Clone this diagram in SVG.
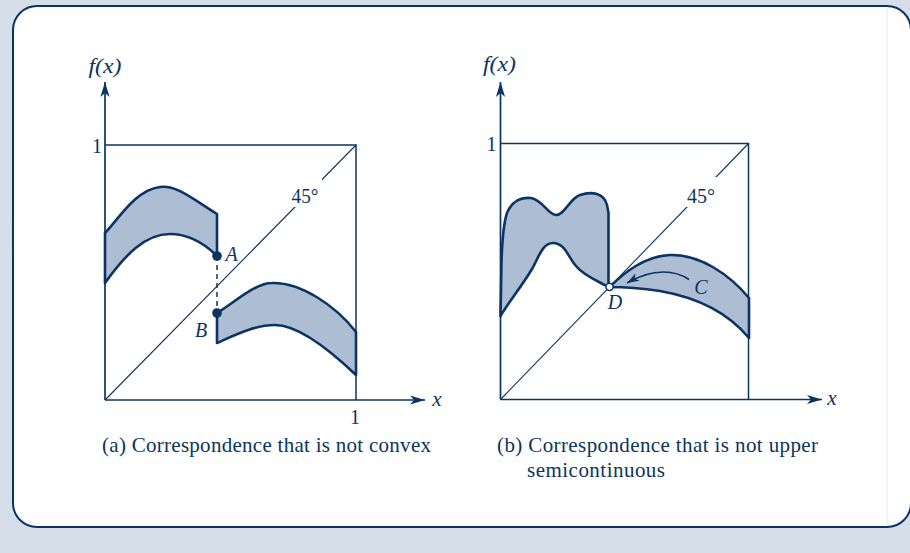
<svg xmlns="http://www.w3.org/2000/svg" width="910" height="553" viewBox="0 0 910 553">
<style>
.ax{stroke:#0b3462;stroke-width:1.7;fill:none}
.bx{stroke:#0b3462;stroke-width:1.5;fill:none}
.dg{stroke:#0b3462;stroke-width:1.1;fill:none}
.sh{stroke:#0b3462;stroke-width:2.6;fill:#adbdd3;stroke-linejoin:round}
.t{font-family:"Liberation Serif","Times New Roman",serif;fill:#0b3462}
.i{font-style:italic}
</style>
<defs>
<marker id="arr" markerUnits="userSpaceOnUse" markerWidth="20" markerHeight="14" viewBox="-16 -7 17 14" refX="0" refY="0" orient="auto">
<path d="M0,0 L-15,-4.6 L-11,0 L-15,4.6 Z" fill="#0b3462"/>
</marker>
<marker id="arrs" markerUnits="userSpaceOnUse" markerWidth="16" markerHeight="12" viewBox="-13 -6 14 12" refX="0" refY="0" orient="auto">
<path d="M0,0 L-12,-4.2 L-9,0 L-12,4.2 Z" fill="#0b3462"/>
</marker>
</defs>
<rect x="0" y="0" width="910" height="553" fill="#d6deea"/>
<rect x="13" y="6" width="898" height="521" rx="24" ry="24" fill="#ffffff" stroke="#0b3462" stroke-width="2"/>
<line x1="887" y1="7" x2="887" y2="526" stroke="#e6e9ee" stroke-width="1"/>

<g id="panel-a">
<g id="a-axes">
<line class="ax" x1="105" y1="400" x2="105" y2="82" marker-end="url(#arr)"/>
<line class="ax" x1="105" y1="400" x2="425" y2="400" marker-end="url(#arr)"/>
<polyline class="bx" points="105,145 356,145 356,400"/>
<line class="dg" x1="105" y1="400" x2="356" y2="145"/>
<rect x="289" y="179" width="33" height="28" fill="#ffffff"/>
<text class="t" x="305" y="202.5" font-size="20" text-anchor="middle" textLength="27" lengthAdjust="spacingAndGlyphs">45°</text>
<text class="t i" x="105" y="72.5" font-size="20" text-anchor="middle" textLength="33" lengthAdjust="spacingAndGlyphs">f(x)</text>
<text class="t" x="97" y="152.5" font-size="20" text-anchor="middle">1</text>
<text class="t" x="355" y="423.5" font-size="20" text-anchor="middle">1</text>
<text class="t i" x="437" y="406" font-size="21" text-anchor="middle">x</text>
</g>
<g id="a-upper-set">
<path class="sh" d="M105,233 C118,220 135,190 160,187 C176,185 190,197 217,214 L217,256 C205,244 190,234 170,234 C145,234 125,255 105,283 Z"/>
</g>
<g id="a-lower-set">
<path class="sh" d="M217,313 C235,302 255,283 272,283 C300,282 335,305 356,332 L356,375 C335,355 300,325 275,325 C255,325 235,335 217,343 Z"/>
</g>
<g id="a-points">
<line x1="217" y1="256" x2="217" y2="313" stroke="#0b3462" stroke-width="1.5" stroke-dasharray="5,4"/>
<circle cx="217" cy="256" r="4.8" fill="#0b3462"/>
<circle cx="217" cy="313" r="4.8" fill="#0b3462"/>
<text class="t i" x="231.5" y="260.5" font-size="20" text-anchor="middle">A</text>
<text class="t i" x="201" y="337" font-size="20" text-anchor="middle">B</text>
</g>
<text class="t" x="102" y="451.5" font-size="21" textLength="329" lengthAdjust="spacing">(a) Correspondence that is not convex</text>
</g>

<g id="panel-b">
<g id="b-axes">
<line class="ax" x1="500.5" y1="399.5" x2="500.5" y2="82" marker-end="url(#arr)"/>
<line class="ax" x1="500.5" y1="399.5" x2="822" y2="399.5" marker-end="url(#arr)"/>
<polyline class="bx" points="500.5,143.5 748.5,143.5 748.5,399.5"/>
<line class="dg" x1="500.5" y1="399.5" x2="748.5" y2="143.5"/>
<rect x="685" y="177" width="34" height="30" fill="#ffffff"/>
<text class="t" x="701" y="202.5" font-size="20" text-anchor="middle" textLength="28" lengthAdjust="spacingAndGlyphs">45°</text>
<text class="t i" x="499.5" y="70.5" font-size="20" text-anchor="middle" textLength="33" lengthAdjust="spacingAndGlyphs">f(x)</text>
<text class="t" x="491.5" y="150.5" font-size="20" text-anchor="middle">1</text>
<text class="t i" x="832" y="405" font-size="21" text-anchor="middle">x</text>
</g>
<g id="b-left-set">
<path class="sh" d="M500.5,316 L501.5,262 C502,245 503,225 507,213 C512,201 521,197 531,198 C543,200 548,215 556,215 C565,215 569,199 580,195 C592,191 604,193 607,205 L608.5,213 L608.5,287 C598,281 584,276 576,266 C568,257 565,243 553,243 C542,243 538,259 532,269 C522,286 510,300 500.5,316 Z"/>
</g>
<g id="b-right-set">
<path class="sh" d="M609.5,287 C625,272 645,256 670,255 C700,254 730,275 749,298 L749,338 C730,315 700,298 660,291 C640,288 625,287 609.5,287 Z"/>
</g>
<g id="b-points">
<path d="M689,279.5 C676,271 655,267 627,283" fill="none" stroke="#0b3462" stroke-width="1.5" marker-end="url(#arrs)"/>
<circle cx="609.5" cy="286.8" r="3.6" fill="#ffffff" stroke="#0b3462" stroke-width="1.5"/>
<text class="t i" x="701" y="293.5" font-size="20" text-anchor="middle">C</text>
<text class="t i" x="615" y="308.5" font-size="20" text-anchor="middle">D</text>
</g>
<text class="t" x="497" y="451.5" font-size="21" textLength="321" lengthAdjust="spacing">(b) Correspondence that is not upper</text>
<text class="t" x="527" y="476.5" font-size="21" textLength="138" lengthAdjust="spacing">semicontinuous</text>
</g>
</svg>
